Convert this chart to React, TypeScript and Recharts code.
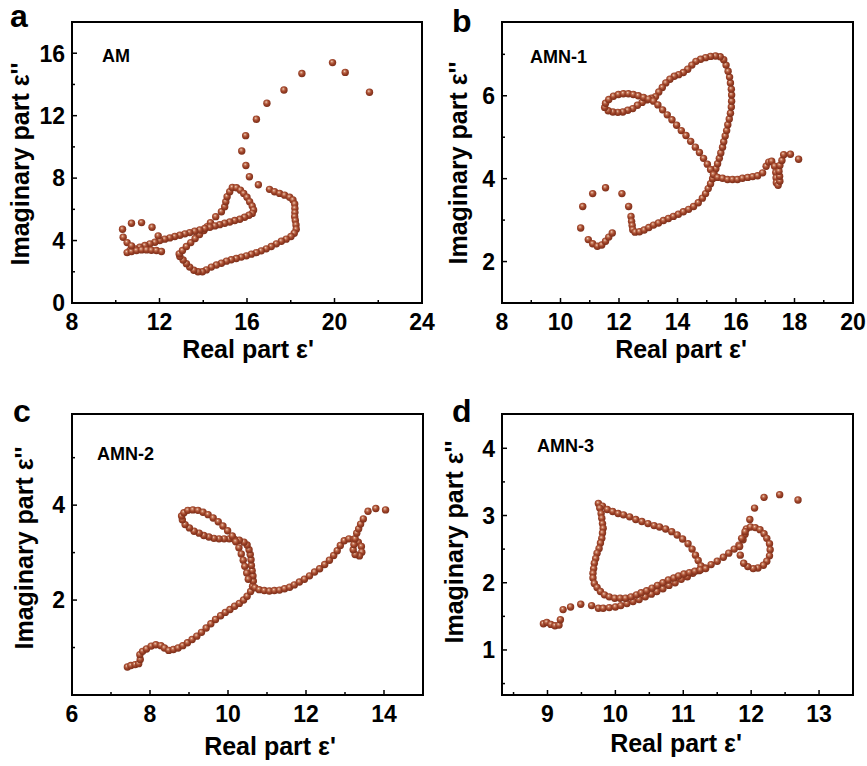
import { ScatterChart, Scatter, XAxis, YAxis, ReferenceArea } from "recharts";

const FONT = "'Liberation Sans', Arial, sans-serif";

type Pt = [number, number];

// AM (panel a)
const am: Pt[] = [
  [21.6, 13.5], [20.49, 14.77], [19.91, 15.4], [18.51, 14.7], [17.69, 13.64], [16.91, 12.8],
  [16.43, 11.77], [15.94, 10.72], [15.76, 9.74], [15.95, 8.81], [16.11, 8.09], [16.52, 7.57],
  [17.03, 7.28], [17.26, 7.13], [17.49, 7.02], [17.72, 6.91], [17.95, 6.77], [18.1, 6.6],
  [18.18, 6.34], [18.19, 6.06], [18.19, 5.79], [18.18, 5.53], [18.21, 5.28], [18.24, 5.0],
  [18.25, 4.72], [18.16, 4.47], [18.01, 4.26], [17.79, 4.09], [17.57, 3.96], [17.34, 3.79],
  [17.11, 3.62], [16.88, 3.47], [16.65, 3.34], [16.43, 3.23], [16.2, 3.13], [15.97, 3.02],
  [15.74, 2.94], [15.51, 2.85], [15.28, 2.77], [15.06, 2.68], [14.83, 2.55], [14.6, 2.43],
  [14.37, 2.3], [14.14, 2.12], [13.96, 2.0], [13.76, 2.0], [13.57, 2.1], [13.38, 2.3],
  [13.23, 2.52], [13.08, 2.75], [12.93, 2.98], [12.9, 3.15], [13.05, 3.36], [13.23, 3.62],
  [13.43, 3.87], [13.63, 4.13], [13.83, 4.38], [14.03, 4.64], [14.18, 4.89], [14.33, 5.15],
  [14.57, 5.53], [14.83, 5.85], [14.98, 6.17], [15.03, 6.49], [15.09, 6.81], [15.21, 7.13],
  [15.33, 7.4], [15.52, 7.38], [15.7, 7.23], [15.85, 7.02], [16.0, 6.77], [16.12, 6.49],
  [16.24, 6.21], [16.3, 5.96], [16.24, 5.74], [16.09, 5.62], [15.89, 5.49], [15.67, 5.36],
  [15.44, 5.28], [15.21, 5.19], [14.98, 5.11], [14.75, 5.02], [14.53, 4.94], [14.3, 4.85],
  [14.07, 4.77], [13.84, 4.68], [13.61, 4.6], [13.38, 4.51], [13.16, 4.43], [12.93, 4.34],
  [12.7, 4.26], [12.47, 4.17], [12.24, 4.09], [12.01, 4.0], [11.79, 3.89], [11.56, 3.79],
  [11.33, 3.68], [11.1, 3.57], [10.87, 3.47], [10.65, 3.36], [10.52, 3.23], [10.72, 3.3],
  [10.95, 3.36], [11.18, 3.4], [11.41, 3.4], [11.63, 3.38], [11.86, 3.36], [12.09, 3.3],
  [10.31, 4.72], [10.72, 5.11], [11.18, 5.15], [11.66, 4.85], [11.94, 4.3], [10.34, 4.21],
  [10.52, 3.87], [10.72, 3.66],
];

// AMN-1 (panel b)
const amn1: Pt[] = [
  [10.69, 2.81], [10.76, 3.33], [11.1, 3.64], [11.54, 3.78], [12.1, 3.64], [12.33, 3.33],
  [10.95, 2.53], [11.1, 2.43], [11.26, 2.37], [11.41, 2.4], [11.54, 2.49], [11.65, 2.59], [11.77, 2.69],
  [12.41, 3.09], [12.43, 2.97], [12.45, 2.87], [12.47, 2.77], [12.55, 2.71],
  [12.7, 2.72], [12.86, 2.76], [13.02, 2.82], [13.18, 2.88], [13.35, 2.93], [13.52, 2.99],
  [13.69, 3.04], [13.86, 3.09], [14.03, 3.14], [14.2, 3.2], [14.38, 3.26], [14.55, 3.33],
  [14.71, 3.42], [14.85, 3.53], [14.96, 3.64], [15.05, 3.76], [15.13, 3.88], [15.2, 4.0],
  [15.25, 4.12], [15.31, 4.24], [15.37, 4.36], [15.43, 4.49], [15.48, 4.62], [15.54, 4.76],
  [15.58, 4.89], [15.63, 5.03], [15.68, 5.16], [15.72, 5.3], [15.77, 5.44], [15.81, 5.58],
  [15.84, 5.73], [15.85, 5.87], [15.85, 6.02], [15.84, 6.16], [15.81, 6.31], [15.78, 6.45],
  [15.73, 6.59], [15.66, 6.74], [15.58, 6.87], [15.46, 6.94], [15.3, 6.96], [15.13, 6.95],
  [14.96, 6.92], [14.79, 6.88], [14.63, 6.83], [14.49, 6.74], [14.35, 6.64], [14.2, 6.56],
  [14.04, 6.51], [13.89, 6.47], [13.74, 6.4], [13.6, 6.31], [13.48, 6.2], [13.36, 6.09],
  [13.25, 5.98], [13.11, 5.94], [12.95, 5.9], [12.79, 5.84], [12.63, 5.77], [12.47, 5.69],
  [12.3, 5.65], [12.13, 5.61], [11.96, 5.6], [11.79, 5.61], [11.63, 5.64], [11.51, 5.72],
  [11.54, 5.82], [11.65, 5.91], [11.81, 5.99], [11.98, 6.03], [12.15, 6.05], [12.32, 6.05],
  [12.49, 6.03], [12.66, 6.0], [12.84, 5.96], [13.01, 5.92], [13.18, 5.87], [13.33, 5.78],
  [13.49, 5.66], [13.65, 5.54], [13.81, 5.42], [13.97, 5.29], [14.13, 5.16], [14.29, 5.04],
  [14.45, 4.9], [14.61, 4.76], [14.75, 4.63], [14.89, 4.49], [15.02, 4.35], [15.13, 4.22],
  [15.23, 4.1], [15.37, 4.03], [15.54, 4.01], [15.71, 3.98], [15.88, 3.98], [16.05, 3.98],
  [16.22, 4.01], [16.4, 4.03], [16.57, 4.05], [16.74, 4.07], [16.91, 4.14], [17.03, 4.3],
  [17.12, 4.4], [17.22, 4.42], [17.32, 4.3], [17.36, 4.15], [17.37, 4.02], [17.38, 3.9],
  [17.44, 3.84], [17.5, 3.94], [17.49, 4.06], [17.47, 4.18], [17.5, 4.32], [17.57, 4.44],
  [17.63, 4.58], [17.86, 4.59], [18.14, 4.47],
];

// AMN-2 (panel c)
const amn2: Pt[] = [
  [7.42, 0.59], [7.51, 0.62], [7.62, 0.64], [7.71, 0.66], [7.75, 0.75], [7.74, 0.85],
  [7.81, 0.92], [7.91, 0.97], [8.03, 1.03], [8.15, 1.06], [8.28, 1.04], [8.37, 0.99],
  [8.48, 0.94], [8.6, 0.96], [8.72, 0.99], [8.84, 1.04], [8.96, 1.1], [9.08, 1.17],
  [9.2, 1.24], [9.32, 1.32], [9.44, 1.41], [9.56, 1.5], [9.68, 1.59], [9.81, 1.67],
  [9.93, 1.74], [10.05, 1.8], [10.17, 1.87], [10.29, 1.93], [10.4, 2.0], [10.49, 2.08],
  [10.58, 2.18], [10.63, 2.29], [10.65, 2.4], [10.64, 2.51], [10.62, 2.62], [10.6, 2.73],
  [10.59, 2.85], [10.57, 2.96], [10.54, 3.06], [10.49, 3.16], [10.41, 3.22], [10.29, 3.26],
  [10.16, 3.28], [10.03, 3.29], [9.9, 3.29], [9.77, 3.29], [9.64, 3.3], [9.51, 3.33],
  [9.38, 3.36], [9.26, 3.41], [9.13, 3.45], [9.01, 3.52], [8.9, 3.59], [8.83, 3.69],
  [8.81, 3.77], [8.87, 3.84], [8.97, 3.89], [9.1, 3.9], [9.23, 3.89], [9.36, 3.85],
  [9.49, 3.8], [9.62, 3.73], [9.75, 3.65], [9.87, 3.56], [9.99, 3.46], [10.11, 3.35],
  [10.2, 3.23], [10.28, 3.1], [10.34, 2.97], [10.39, 2.84], [10.43, 2.71], [10.48, 2.57],
  [10.52, 2.44], [10.69, 2.26], [10.8, 2.22], [10.93, 2.2], [11.06, 2.19], [11.19, 2.2],
  [11.32, 2.21], [11.45, 2.24], [11.58, 2.27], [11.7, 2.32], [11.83, 2.38], [11.96, 2.44],
  [12.09, 2.51], [12.22, 2.59], [12.35, 2.66], [12.48, 2.75], [12.6, 2.84], [12.71, 2.94],
  [12.8, 3.04], [12.88, 3.15], [12.98, 3.25], [13.1, 3.29], [13.23, 3.28], [13.34, 3.22],
  [13.42, 3.13], [13.43, 3.01], [13.37, 2.93], [13.26, 2.96], [13.21, 3.06], [13.23, 3.17],
  [13.26, 3.29], [13.3, 3.41], [13.35, 3.5], [13.4, 3.6], [13.47, 3.71], [13.59, 3.87],
  [13.79, 3.93], [14.04, 3.9],
];

// AMN-3 (panel d)
const amn3: Pt[] = [
  [8.94, 1.39], [8.99, 1.41], [9.05, 1.38], [9.11, 1.36], [9.17, 1.37], [9.19, 1.45],
  [9.23, 1.6], [9.34, 1.64], [9.49, 1.68], [9.65, 1.66], [9.75, 1.62],
  [9.82, 1.62], [9.91, 1.63], [10.0, 1.64], [10.08, 1.66], [10.17, 1.69], [10.26, 1.72],
  [10.35, 1.75], [10.44, 1.79], [10.53, 1.83], [10.61, 1.87], [10.7, 1.91], [10.79, 1.96],
  [10.88, 2.0], [10.97, 2.05], [11.06, 2.09], [11.14, 2.14], [11.23, 2.18], [11.32, 2.22],
  [11.41, 2.27], [11.5, 2.32], [11.59, 2.38], [11.67, 2.44], [11.75, 2.5], [11.82, 2.56],
  [11.88, 2.64], [11.91, 2.72], [11.93, 2.8], [11.99, 2.83], [12.06, 2.82], [12.13, 2.79],
  [12.19, 2.73], [12.23, 2.66], [12.27, 2.58], [12.28, 2.49], [12.27, 2.4], [12.23, 2.32],
  [12.18, 2.26], [12.1, 2.22], [12.03, 2.21], [11.95, 2.24], [11.89, 2.29], [11.84, 2.41],
  [11.83, 2.54], [11.86, 2.66], [11.91, 2.76],
  [11.98, 2.94], [12.05, 3.11], [12.19, 3.27], [12.42, 3.31], [12.69, 3.23],
  [9.75, 3.18], [9.81, 3.14], [9.88, 3.09], [9.96, 3.06], [10.04, 3.03], [10.12, 3.01],
  [10.21, 2.98], [10.3, 2.94], [10.39, 2.91], [10.48, 2.88], [10.57, 2.85], [10.65, 2.83],
  [10.74, 2.8], [10.83, 2.76], [10.91, 2.71], [10.99, 2.65], [11.07, 2.58], [11.13, 2.5],
  [11.18, 2.41], [11.22, 2.33], [11.26, 2.25],
  [9.77, 3.11], [9.79, 3.03], [9.8, 2.96], [9.81, 2.88], [9.82, 2.81], [9.81, 2.74],
  [9.8, 2.66], [9.78, 2.59], [9.76, 2.51], [9.73, 2.44], [9.71, 2.36], [9.69, 2.29],
  [9.68, 2.21], [9.67, 2.14], [9.67, 2.07], [9.69, 1.99], [9.73, 1.93], [9.78, 1.87],
  [9.84, 1.82], [9.91, 1.79], [9.99, 1.77], [10.07, 1.77], [10.15, 1.77], [10.23, 1.79],
  [10.31, 1.82], [10.38, 1.85], [10.46, 1.88], [10.54, 1.92], [10.62, 1.96], [10.7, 2.0],
  [10.78, 2.04], [10.86, 2.07], [10.93, 2.1], [11.01, 2.13], [11.09, 2.15], [11.17, 2.17],
  [11.25, 2.19], [11.33, 2.21],
];

const amXTicks = [8, 10, 12, 14, 16, 18, 20, 22, 24];
const amXMajor = [8, 12, 16, 20, 24];
const amYTicks = [0, 2, 4, 6, 8, 10, 12, 14, 16];
const amYMajor = [0, 4, 8, 12, 16];

const amn1XTicks = [8, 9, 10, 11, 12, 13, 14, 15, 16, 17, 18, 19, 20];
const amn1XMajor = [8, 10, 12, 14, 16, 18, 20];
const amn1YTicks = [2, 3, 4, 5, 6, 7];
const amn1YMajor = [2, 4, 6];

const amn2XTicks = [6, 7, 8, 9, 10, 11, 12, 13, 14];
const amn2XMajor = [6, 8, 10, 12, 14];
const amn2YTicks = [1, 2, 3, 4, 5];
const amn2YMajor = [2, 4];

const amn3XTicks = [8.5, 9, 9.5, 10, 10.5, 11, 11.5, 12, 12.5, 13];
const amn3XMajor = [9, 10, 11, 12, 13];
const amn3YTicks = [0.5, 1, 1.5, 2, 2.5, 3, 3.5, 4];
const amn3YMajor = [1, 2, 3, 4];

const toPts = (a: Pt[]) => a.map(([x, y]) => ({ x, y }));

const X_MARGIN = 10;
const Y_MARGIN = 7;

function XTick(p: any) {
  const { x, y, payload, major } = p;
  const v = payload.value;
  const isMajor = major.includes(v);
  const ay = y - X_MARGIN;
  return (
    <g>
      <line x1={x} x2={x} y1={ay} y2={ay - (isMajor ? 5 : 3)} stroke="#000" strokeWidth={1.5} />
      {isMajor && (
        <text x={x} y={ay + X_MARGIN} dy="0.72em" textAnchor="middle" fontFamily={FONT} fontWeight="bold" fontSize={23} fill="#000">
          {v}
        </text>
      )}
    </g>
  );
}

function YTick(p: any) {
  const { x, y, payload, major } = p;
  const v = payload.value;
  const isMajor = major.includes(v);
  const ax = x + Y_MARGIN;
  return (
    <g>
      <line x1={ax} x2={ax + (isMajor ? 5 : 3)} y1={y} y2={y} stroke="#000" strokeWidth={1.5} />
      {isMajor && (
        <text x={x} y={y} dy="0.36em" textAnchor="end" fontFamily={FONT} fontWeight="bold" fontSize={23} fill="#000">
          {v}
        </text>
      )}
    </g>
  );
}

const Ball = (p: any) => <circle cx={p.cx} cy={p.cy} r={3.7} fill="url(#ball)" />;

function Panel(props: any) {
  const { left, top, width, right, data, xDomain, yDomain, xTicks, xMajor, yTicks, yMajor } = props;
  return (
    <div style={{ position: "absolute", left, top }}>
      <ScatterChart width={width} height={340} margin={{ top: 22, right, bottom: 7, left: 0 }}>
        <XAxis
          type="number"
          dataKey="x"
          domain={xDomain}
          ticks={xTicks}
          interval={0}
          allowDataOverflow
          axisLine={false}
          tickLine={false}
          tickSize={0}
          tickMargin={X_MARGIN}
          height={30}
          tick={(tp: any) => <XTick {...tp} major={xMajor} />}
        />
        <YAxis
          type="number"
          dataKey="y"
          domain={yDomain}
          ticks={yTicks}
          interval={0}
          allowDataOverflow
          axisLine={false}
          tickLine={false}
          tickSize={0}
          tickMargin={Y_MARGIN}
          width={72}
          tick={(tp: any) => <YTick {...tp} major={yMajor} />}
        />
        <Scatter data={toPts(data)} shape={Ball} isAnimationActive={false} />
        <ReferenceArea
          x1={xDomain[0]}
          x2={xDomain[1]}
          y1={yDomain[0]}
          y2={yDomain[1]}
          fill="none"
          fillOpacity={0}
          stroke="#000"
          strokeWidth={2}
          ifOverflow="visible"
        />
      </ScatterChart>
    </div>
  );
}

const txt = { fontFamily: FONT, fontWeight: "bold" as const, fill: "#000" };

export default function App() {
  return (
    <div style={{ position: "absolute", left: 0, top: 0, width: 867, height: 766, background: "#fff", overflow: "hidden" }}>
      <svg width={0} height={0} style={{ position: "absolute" }}>
        <defs>
          <radialGradient id="ball" cx="0.45" cy="0.42" r="0.6" fx="0.4" fy="0.34">
            <stop offset="0" stopColor="#f2d6c8" />
            <stop offset="0.25" stopColor="#c57a5b" />
            <stop offset="0.55" stopColor="#a0442a" />
            <stop offset="1" stopColor="#782c17" />
          </radialGradient>
        </defs>
      </svg>
      <Panel left={0} top={0} width={446} right={24} data={am} xDomain={[8, 24]} yDomain={[0, 18]}
        xTicks={amXTicks} xMajor={amXMajor} yTicks={amYTicks} yMajor={amYMajor} />
      <Panel left={430} top={0} width={437} right={14} data={amn1} xDomain={[8, 20]} yDomain={[1, 7.78]}
        xTicks={amn1XTicks} xMajor={amn1XMajor} yTicks={amn1YTicks} yMajor={amn1YMajor} />
      <Panel left={0} top={392} width={433} right={10} data={amn2} xDomain={[6, 15]} yDomain={[0, 5.92]}
        xTicks={amn2XTicks} xMajor={amn2XMajor} yTicks={amn2YTicks} yMajor={amn2YMajor} />
      <Panel left={430} top={392} width={437} right={14} data={amn3} xDomain={[8.33, 13.5]} yDomain={[0.33, 4.51]}
        xTicks={amn3XTicks} xMajor={amn3XMajor} yTicks={amn3YTicks} yMajor={amn3YMajor} />
      <svg width={867} height={766} style={{ position: "absolute", left: 0, top: 0, pointerEvents: "none" }}>
        <text x={10} y={27} fontSize={32} {...txt}>a</text>
        <text x={452} y={32} fontSize={32} {...txt}>b</text>
        <text x={13} y={422} fontSize={32} {...txt}>c</text>
        <text x={452} y={422} fontSize={32} {...txt}>d</text>

        <text x={102} y={62} fontSize={18} {...txt}>AM</text>
        <text x={530} y={63} fontSize={18} {...txt}>AMN-1</text>
        <text x={97} y={460} fontSize={18} {...txt}>AMN-2</text>
        <text x={537} y={452} fontSize={18} {...txt}>AMN-3</text>

        <text x={248} y={358} fontSize={25} textAnchor="middle" {...txt}>Real part ε'</text>
        <text x={681} y={358} fontSize={25} textAnchor="middle" {...txt}>Real part ε'</text>
        <text x={270} y={755} fontSize={25} textAnchor="middle" {...txt}>Real part ε'</text>
        <text x={676} y={752} fontSize={25} textAnchor="middle" {...txt}>Real part ε'</text>

        <text transform="translate(29,164) rotate(-90)" fontSize={25} textAnchor="middle" {...txt}>Imaginary part ε''</text>
        <text transform="translate(467,163) rotate(-90)" fontSize={25} textAnchor="middle" {...txt}>Imaginary part ε''</text>
        <text transform="translate(33,548) rotate(-90)" fontSize={25} textAnchor="middle" {...txt}>Imaginary part ε''</text>
        <text transform="translate(463,542) rotate(-90)" fontSize={25} textAnchor="middle" {...txt}>Imaginary part ε''</text>
      </svg>
    </div>
  );
}
